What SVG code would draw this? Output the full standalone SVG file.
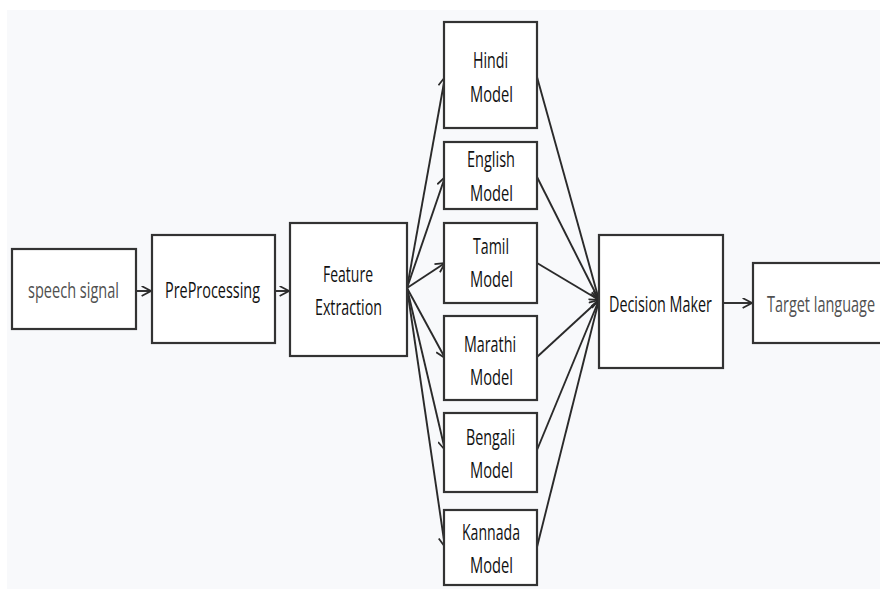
<svg xmlns="http://www.w3.org/2000/svg" width="880" height="589" viewBox="0 0 880 589">
<style>
.box{fill:#ffffff;stroke:#333333;stroke-width:2.2}
.t{font-family:"Open Sans","Noto Sans",sans-serif;font-size:21px;fill:#111111}
.g{fill:#505050}
.c{stroke:#2a2a2a;stroke-width:1.9;fill:none}
</style>
<defs>
<marker id="ah" viewBox="0 0 10 10" refX="9.5" refY="5" markerWidth="11" markerHeight="11" markerUnits="userSpaceOnUse" orient="auto">
<path d="M1,0.5 L9.5,5 L1,9.5" fill="none" stroke="#2a2a2a" stroke-width="1.6"/>
</marker>
</defs>
<rect x="0" y="0" width="880" height="589" fill="#ffffff"/>
<rect x="7" y="10" width="873" height="579" fill="#f8f9fb"/>
<g id="connectors">
<line class="c" x1="136" y1="291" x2="151" y2="291" marker-end="url(#ah)"/>
<line class="c" x1="275" y1="291" x2="289" y2="291" marker-end="url(#ah)"/>
<line class="c" x1="407" y1="288" x2="445" y2="77" marker-end="url(#ah)"/>
<line class="c" x1="407" y1="288" x2="445" y2="177" marker-end="url(#ah)"/>
<line class="c" x1="407" y1="288" x2="445" y2="263" marker-end="url(#ah)"/>
<line class="c" x1="407" y1="288" x2="445" y2="358" marker-end="url(#ah)"/>
<line class="c" x1="407" y1="288" x2="445" y2="450" marker-end="url(#ah)"/>
<line class="c" x1="407" y1="288" x2="445" y2="547" marker-end="url(#ah)"/>
<line class="c" x1="537" y1="77" x2="599" y2="300" marker-end="url(#ah)"/>
<line class="c" x1="537" y1="177" x2="599" y2="300" marker-end="url(#ah)"/>
<line class="c" x1="537" y1="263" x2="599" y2="300" marker-end="url(#ah)"/>
<line class="c" x1="537" y1="357" x2="599" y2="300" marker-end="url(#ah)"/>
<line class="c" x1="537" y1="450" x2="599" y2="300" marker-end="url(#ah)"/>
<line class="c" x1="537" y1="547" x2="599" y2="300" marker-end="url(#ah)"/>
<line class="c" x1="723" y1="303" x2="752" y2="303" marker-end="url(#ah)"/>
</g>
<g id="speech">
<rect class="box" x="12" y="249" width="124" height="80"/>
<text class="t g" x="28" y="298" textLength="91" lengthAdjust="spacingAndGlyphs">speech signal</text>
</g>
<g id="preprocessing">
<rect class="box" x="152" y="235" width="123" height="108"/>
<text class="t" x="165" y="298" textLength="95" lengthAdjust="spacingAndGlyphs">PreProcessing</text>
</g>
<g id="feature">
<rect class="box" x="290" y="223" width="117" height="133"/>
<text class="t" x="323" y="282" textLength="50" lengthAdjust="spacingAndGlyphs">Feature</text>
<text class="t" x="315" y="315" textLength="67" lengthAdjust="spacingAndGlyphs">Extraction</text>
</g>
<g id="hindi">
<rect class="box" x="444" y="22" width="93" height="106"/>
<text class="t" x="473" y="68" textLength="35" lengthAdjust="spacingAndGlyphs">Hindi</text>
<text class="t" x="470" y="102" textLength="43" lengthAdjust="spacingAndGlyphs">Model</text>
</g>
<g id="english">
<rect class="box" x="444" y="142" width="93" height="67"/>
<text class="t" x="467" y="167" textLength="48" lengthAdjust="spacingAndGlyphs">English</text>
<text class="t" x="470" y="201" textLength="43" lengthAdjust="spacingAndGlyphs">Model</text>
</g>
<g id="tamil">
<rect class="box" x="444" y="223" width="93" height="80"/>
<text class="t" x="473" y="254" textLength="36" lengthAdjust="spacingAndGlyphs">Tamil</text>
<text class="t" x="470" y="287" textLength="43" lengthAdjust="spacingAndGlyphs">Model</text>
</g>
<g id="marathi">
<rect class="box" x="444" y="316" width="93" height="84"/>
<text class="t" x="464" y="352" textLength="52" lengthAdjust="spacingAndGlyphs">Marathi</text>
<text class="t" x="470" y="385" textLength="43" lengthAdjust="spacingAndGlyphs">Model</text>
</g>
<g id="bengali">
<rect class="box" x="444" y="413" width="93" height="79"/>
<text class="t" x="466" y="445" textLength="49" lengthAdjust="spacingAndGlyphs">Bengali</text>
<text class="t" x="470" y="478" textLength="43" lengthAdjust="spacingAndGlyphs">Model</text>
</g>
<g id="kannada">
<rect class="box" x="444" y="510" width="93" height="75"/>
<text class="t" x="462" y="540" textLength="58" lengthAdjust="spacingAndGlyphs">Kannada</text>
<text class="t" x="470" y="573" textLength="43" lengthAdjust="spacingAndGlyphs">Model</text>
</g>
<g id="decision">
<rect class="box" x="599" y="235" width="124" height="133"/>
<text class="t" x="609" y="312" textLength="103" lengthAdjust="spacingAndGlyphs">Decision Maker</text>
</g>
<g id="target">
<rect class="box" x="753" y="263" width="140" height="80"/>
<text class="t g" x="767" y="312" textLength="108" lengthAdjust="spacingAndGlyphs">Target language</text>
</g>
</svg>
